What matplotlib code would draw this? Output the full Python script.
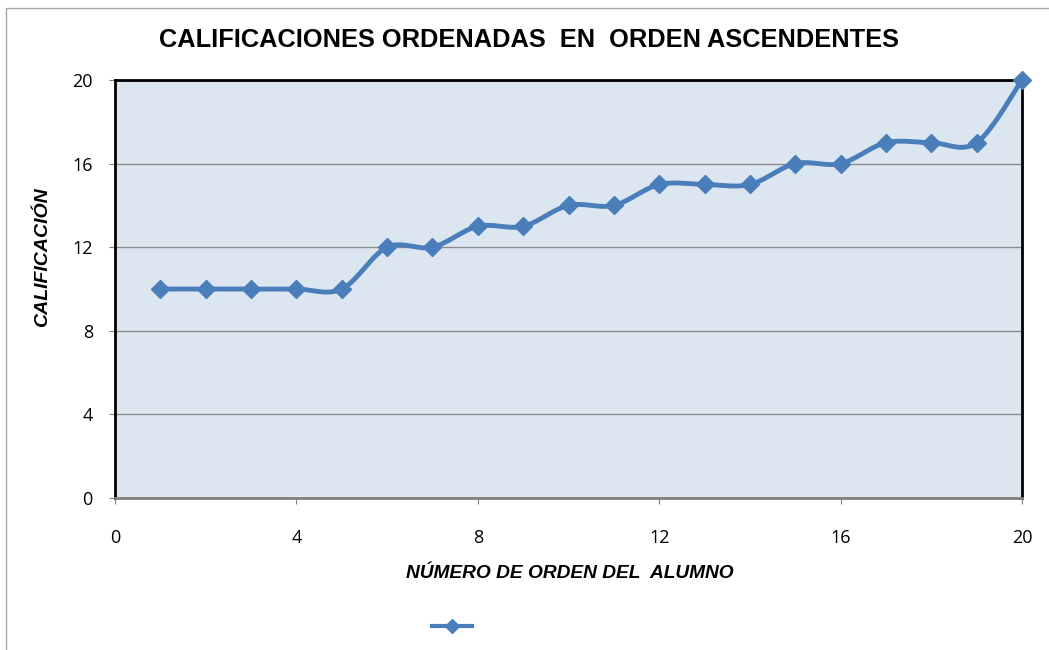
import numpy as np
import matplotlib
matplotlib.use("Agg")
import matplotlib.pyplot as plt
from matplotlib.patches import Rectangle
from matplotlib.lines import Line2D

alumno = list(range(1, 21))
calificacion = [10, 10, 10, 10, 10, 12, 12, 13, 13, 14, 14, 15, 15, 15, 16, 16, 17, 17, 17, 20]
xticks = [0, 4, 8, 12, 16, 20]
yticks = [0, 4, 8, 12, 16, 20]
title = "CALIFICACIONES ORDENADAS  EN  ORDEN ASCENDENTES"
xlabel = "NÚMERO DE ORDEN DEL  ALUMNO"
ylabel = "CALIFICACIÓN"

def smooth(x, y, n=30):
    x = np.asarray(x, float); y = np.asarray(y, float)
    px = np.concatenate([[x[0]], x, [x[-1]]])
    py = np.concatenate([[y[0]], y, [y[-1]]])
    xs, ys = [], []
    t = np.linspace(0, 1, n)
    for i in range(1, len(px) - 2):
        p0, p1, p2, p3 = (np.array([px[j], py[j]]) for j in (i - 1, i, i + 1, i + 2))
        c1 = p1 + (p2 - p0) / 6
        c2 = p2 - (p3 - p1) / 6
        b = ((1 - t) ** 3)[:, None] * p1 + (3 * (1 - t) ** 2 * t)[:, None] * c1 \
            + (3 * (1 - t) * t ** 2)[:, None] * c2 + (t ** 3)[:, None] * p2
        xs.extend(b[:, 0]); ys.extend(b[:, 1])
    return np.array(xs), np.array(ys)

fig = plt.figure(figsize=(10.49, 6.5), dpi=100)
fig.patches.append(Rectangle((6 / 1049, -0.1), 1.2, 1 - 8 / 650 + 0.1, transform=fig.transFigure,
                             fill=False, edgecolor="#a6a6a6", linewidth=1))
ax = fig.add_axes([115 / 1049, 1 - 498 / 650, (1022 - 115) / 1049, (498 - 80) / 650])
ax.set_facecolor("#dce6f1")
ax.set_xlim(0, 20)
ax.set_ylim(0, 20)
ax.set_xticks(xticks)
ax.set_yticks(yticks)
ax.yaxis.grid(True, color="#8c8c8c", linewidth=1)
ax.set_axisbelow(True)
for s in ["top", "left", "right"]:
    ax.spines[s].set_color("black")
    ax.spines[s].set_linewidth(2)
ax.spines["bottom"].set_color("#808080")
ax.spines["bottom"].set_linewidth(2)
ax.tick_params(length=4, color="#808080", labelsize=13)
ax.tick_params(axis="x", pad=18)
ax.tick_params(axis="y", pad=12)
for lab in ax.get_xticklabels() + ax.get_yticklabels():
    lab.set_family("Open Sans")

sx, sy = smooth(alumno, calificacion)
ax.plot(sx, sy, color="#4a7ebb", linewidth=3.5, solid_capstyle="round", zorder=3)
ax.plot(alumno, calificacion, linestyle="none", marker="D", markersize=9.5,
        color="#4a7ebb", markeredgecolor="#4a7ebb", zorder=4, clip_on=False)

fig.text(529 / 1049, 1 - 40 / 650, title, ha="center", va="center",
         fontsize=18.3, fontweight="bold", family="Liberation Sans")
fig.text(570 / 1049, 1 - 573 / 650, xlabel, ha="center", va="center",
         fontsize=13.8, fontweight="bold", fontstyle="italic", family="Liberation Sans")
fig.text(43 / 1049, 1 - 257 / 650, ylabel, ha="center", va="center", rotation=90,
         fontsize=14, fontweight="bold", fontstyle="italic", family="Liberation Sans")

lx = [432 / 1049, 472 / 1049]
ly = [1 - 626 / 650] * 2
fig.lines.append(Line2D(lx, ly, transform=fig.transFigure, color="#4a7ebb", linewidth=3))
fig.lines.append(Line2D([452 / 1049], [1 - 626 / 650], transform=fig.transFigure, marker="D",
                        markersize=7, color="#4a7ebb", linestyle="none"))

fig.savefig("out.png", dpi=100)
